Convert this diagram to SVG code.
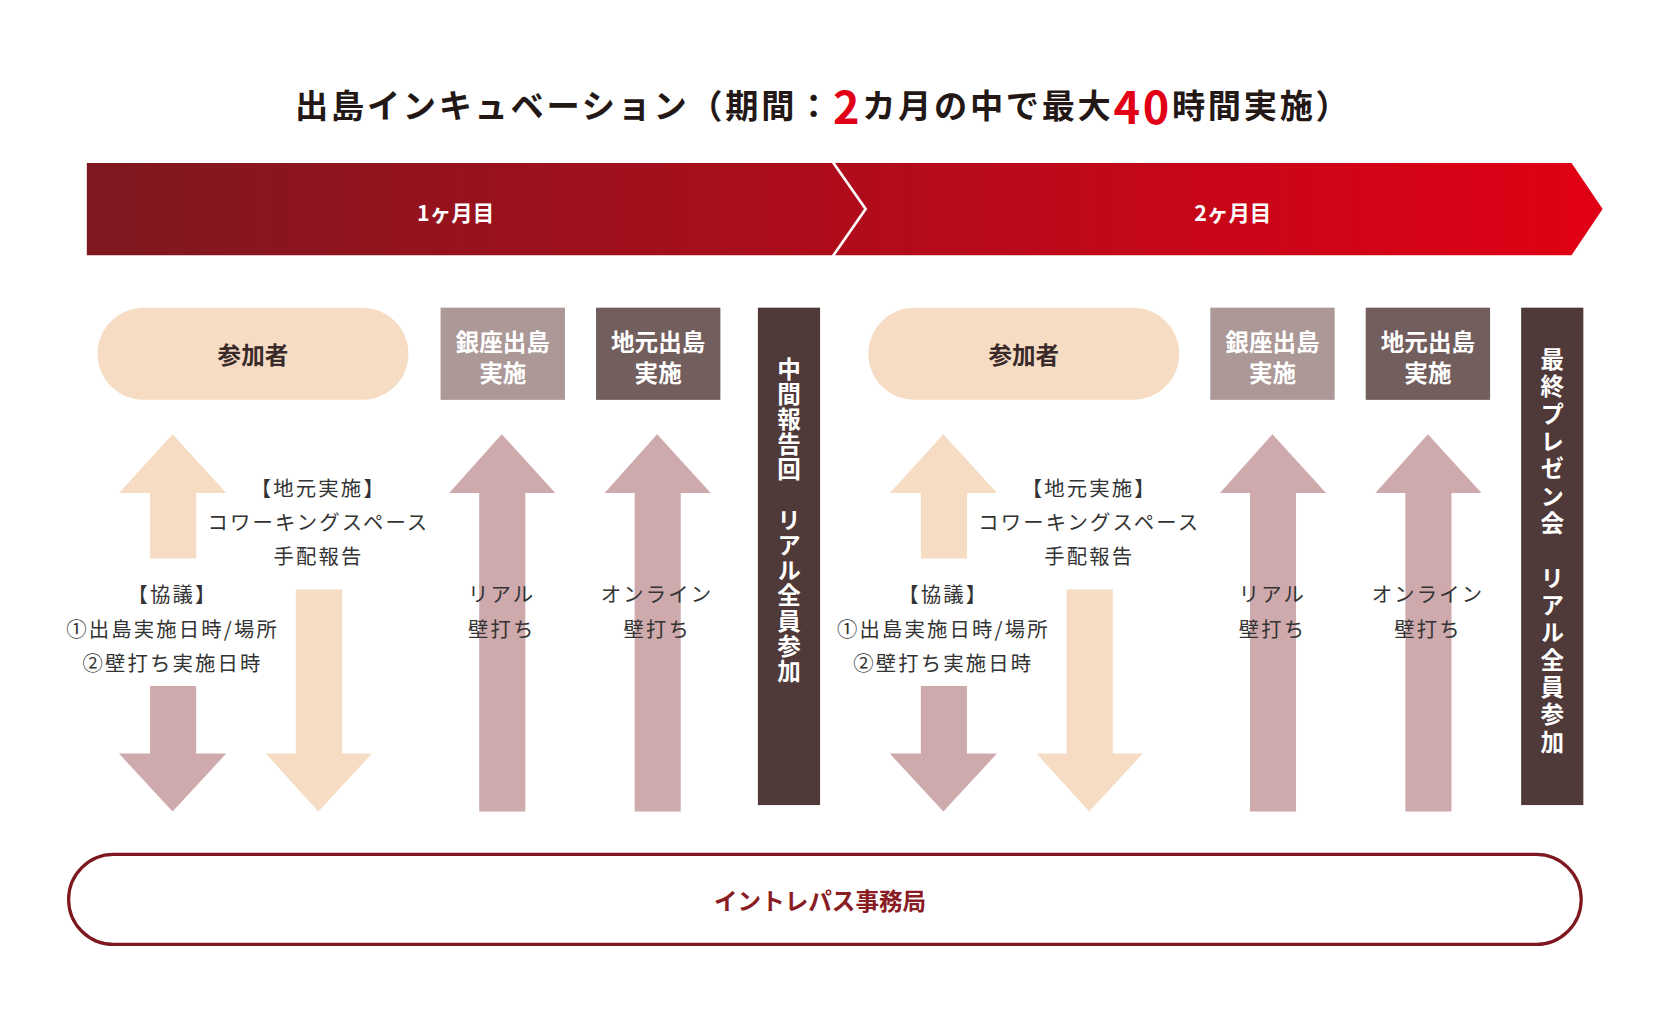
<svg xmlns="http://www.w3.org/2000/svg" width="1680" height="1012" viewBox="0 0 1680 1012">
<defs>
<linearGradient id="bg" x1="81" y1="0" x2="1495" y2="0" gradientUnits="userSpaceOnUse">
<stop offset="0" stop-color="#7e1820"/><stop offset="1" stop-color="#e10015"/>
</linearGradient>
<style>
text{font-family:"Noto Sans CJK JP","Noto Sans",sans-serif;text-anchor:middle;dominant-baseline:central}
.b{font-weight:bold}
.t{font-size:19px;fill:#333;letter-spacing:2px}
.w{fill:#fff;font-size:22px;font-weight:bold}
.lt{fill:#f5dcc3}.pk{fill:#cfaaad}
.v{writing-mode:vertical-rl;fill:#fff;font-size:22px;font-weight:bold}
</style>
</defs>
<rect width="1680" height="1012" fill="#fff"/>
<g transform="scale(1.072)">
<g id="title"><text x="768" y="97" class="b" font-size="31" fill="#231815" letter-spacing="2.5">出島インキュベーション（期間：<tspan fill="#e10015" font-size="42">2</tspan>カ月の中で最大<tspan fill="#e10015" font-size="42">40</tspan>時間実施）</text></g>
<g id="banner">
<polygon points="81,152 776,152 806,195 776,238 81,238" fill="url(#bg)"/>
<polygon points="779,152 1466,152 1495,195 1466,238 779,238 809,195" fill="url(#bg)"/>
<text x="425" y="197" class="w" style="font-size:20px">1ヶ月目</text>
<text x="1150" y="197" class="w" style="font-size:20px">2ヶ月目</text>
</g>
<g id="month1">
<g id="p1"><rect x="91" y="287" width="290" height="86" rx="43" fill="#f5dcc3"/><text x="236" y="330" class="b" font-size="22" fill="#3a2a2a">参加者</text></g>
<g id="g1"><rect x="411" y="287" width="116" height="86" fill="#ab9897"/><text x="469" y="318" class="w">銀座出島</text><text x="469" y="347" class="w">実施</text></g>
<g id="j1"><rect x="556" y="287" width="116" height="86" fill="#735e5e"/><text x="614" y="318" class="w">地元出島</text><text x="614" y="347" class="w">実施</text></g>
<g id="m1"><rect x="707" y="287" width="58" height="464" fill="#4f3939"/><text x="736" y="333" class="v" style="dominant-baseline:auto;text-anchor:start" letter-spacing="1.5">中間報告回　リアル全員参加</text></g>
</g>
<g id="month2">
<g id="p2"><rect x="810" y="287" width="290" height="86" rx="43" fill="#f5dcc3"/><text x="955" y="330" class="b" font-size="22" fill="#3a2a2a">参加者</text></g>
<g id="g2"><rect x="1129" y="287" width="116" height="86" fill="#ab9897"/><text x="1187" y="318" class="w">銀座出島</text><text x="1187" y="347" class="w">実施</text></g>
<g id="j2"><rect x="1274" y="287" width="116" height="86" fill="#735e5e"/><text x="1332" y="318" class="w">地元出島</text><text x="1332" y="347" class="w">実施</text></g>
<g id="m2"><rect x="1419" y="287" width="58" height="464" fill="#4f3939"/><text x="1448" y="324" class="v" style="dominant-baseline:auto;text-anchor:start" letter-spacing="3.5">最終プレゼン会　リアル全員参加</text></g>
</g>
<g id="connectors">
<g id="a1">
<polygon class="lt" points="161,405 211,460 183,460 183,521 140,521 140,460 111,460"/>
<polygon class="pk" points="140,640 183,640 183,703 211,703 161,757 111,703 140,703"/>
<polygon class="lt" points="276,550 319,550 319,703 347,703 297,757 248,703 276,703"/>
<polygon class="pk" points="468,405 518,460 490,460 490,757 447,757 447,460 419,460"/>
<polygon class="pk" points="613,405 663,460 635,460 635,757 592,757 592,460 564,460"/>
</g>
<g id="a2" transform="translate(719,0)">
<polygon class="lt" points="161,405 211,460 183,460 183,521 140,521 140,460 111,460"/>
<polygon class="pk" points="140,640 183,640 183,703 211,703 161,757 111,703 140,703"/>
<polygon class="lt" points="276,550 319,550 319,703 347,703 297,757 248,703 276,703"/>
<polygon class="pk" points="468,405 518,460 490,460 490,757 447,757 447,460 419,460"/>
<polygon class="pk" points="613,405 663,460 635,460 635,757 592,757 592,460 564,460"/>
</g>
</g>
<g id="labels1">
<text x="297" y="454" class="t">【地元実施】</text><text x="297" y="486" class="t">コワーキングスペース</text><text x="297" y="518" class="t">手配報告</text>
<text x="161" y="553" class="t">【協議】</text><text x="161" y="586" class="t">①出島実施日時/場所</text><text x="161" y="618" class="t">②壁打ち実施日時</text>
<text x="468" y="553" class="t">リアル</text><text x="468" y="586" class="t">壁打ち</text>
<text x="613" y="553" class="t">オンライン</text><text x="613" y="586" class="t">壁打ち</text>
</g>
<g id="labels2" transform="translate(719,0)">
<text x="297" y="454" class="t">【地元実施】</text><text x="297" y="486" class="t">コワーキングスペース</text><text x="297" y="518" class="t">手配報告</text>
<text x="161" y="553" class="t">【協議】</text><text x="161" y="586" class="t">①出島実施日時/場所</text><text x="161" y="618" class="t">②壁打ち実施日時</text>
<text x="468" y="553" class="t">リアル</text><text x="468" y="586" class="t">壁打ち</text>
<text x="613" y="553" class="t">オンライン</text><text x="613" y="586" class="t">壁打ち</text>
</g>
<g id="office"><rect x="64" y="797" width="1411" height="84" rx="42" fill="#fff" stroke="#7e1820" stroke-width="3"/><text x="765" y="840" class="b" font-size="22" fill="#8a1c24">イントレパス事務局</text></g>
</g>
</svg>
